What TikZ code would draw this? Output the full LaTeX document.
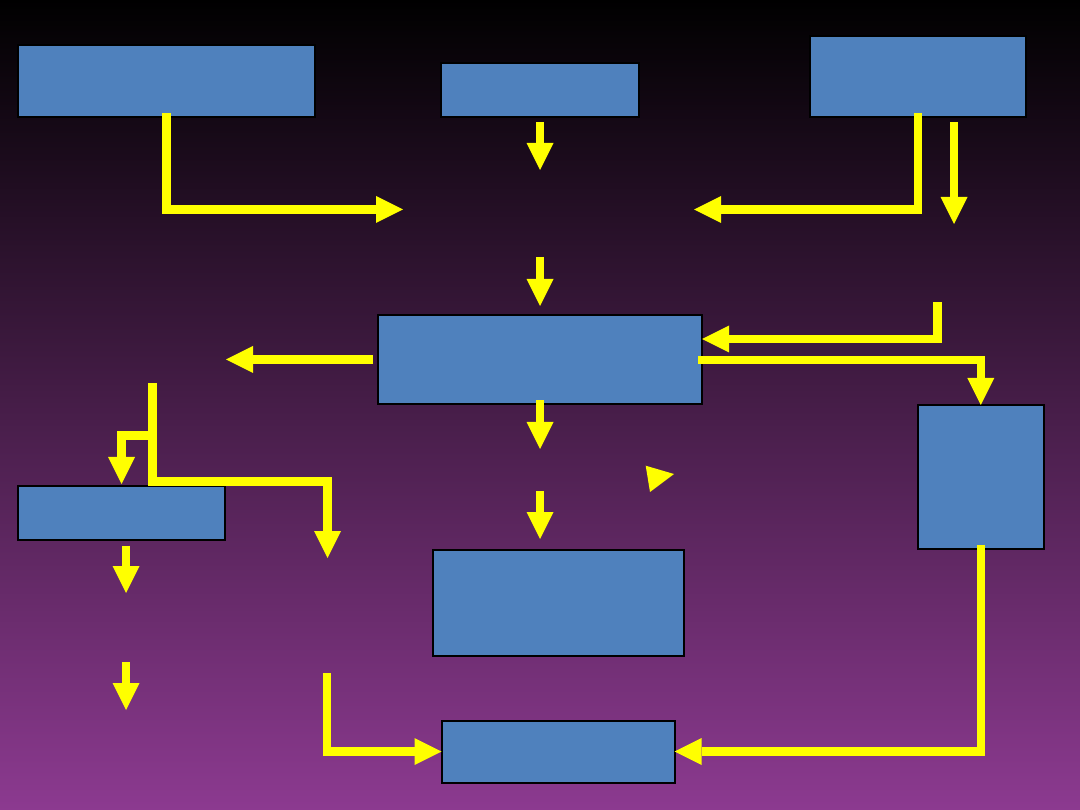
\documentclass[tikz,border=0pt]{standalone}
\usetikzlibrary{arrows.meta}
\definecolor{boxblue}{HTML}{4F81BD}
\definecolor{arrowyellow}{HTML}{FFFF00}
\definecolor{bgpurple}{HTML}{8C3A90}
\tikzset{
  box/.style={draw=black, line width=2pt, fill=boxblue, inner sep=0pt, outer sep=0pt, rectangle},
  flow/.style={draw=arrowyellow, line width=8.5pt, line join=miter,
    -{Triangle[width=27pt,length=27pt,line width=0pt]}},
  plainflow/.style={draw=arrowyellow, line width=8.5pt, line join=miter}
}
\begin{document}
\begin{tikzpicture}[x=1pt,y=-1pt]
\shade[top color=black, bottom color=bgpurple] (0,0) rectangle (1080,810);
\useasboundingbox (0,0) rectangle (1080,810);

% boxes
\node[box, minimum width=297pt, minimum height=72pt] (A) at (166.5,81) {};
\node[box, minimum width=198pt, minimum height=54pt] (B) at (540,90) {};
\node[box, minimum width=216pt, minimum height=81pt] (C) at (918,76.5) {};
\node[box, minimum width=324pt, minimum height=89pt] (D) at (540,359.5) {};
\node[box, minimum width=207pt, minimum height=53.5pt] (E) at (121.5,512.75) {};
\node[box, minimum width=125.5pt, minimum height=143.5pt] (F) at (980.75,476.75) {};
\node[box, minimum width=251pt, minimum height=106.5pt] (G) at (558,602.75) {};
\node[box, minimum width=233pt, minimum height=62pt] (H) at (558,751.5) {};

% free ends
\coordinate (a1) at (403,209.5);
\coordinate (b1) at (540,170);
\coordinate (c1) at (694,209.5);
\coordinate (c2) at (954,224);
\coordinate (m0) at (540,257);
\coordinate (m1) at (540,306);
\coordinate (r0) at (937.5,302);
\coordinate (d1) at (226,359.5);
\coordinate (l0) at (152.5,383);
\coordinate (l1) at (327.5,481.5);
\coordinate (l2) at (327.5,558);
\coordinate (l3) at (152,435.5);
\coordinate (e1) at (126,593);
\coordinate (g0) at (540,449);
\coordinate (n0) at (540,491);
\coordinate (n1) at (540,539);
\coordinate (k0) at (126,662);
\coordinate (k1) at (126,710);
\coordinate (h0) at (327,673);

% connectors
\draw[flow] ([yshift=4pt]A.south) |- (a1);
\draw[flow] ([yshift=-5pt]B.south) -- (b1);
\draw[flow] ([yshift=4pt]C.south) |- (c1);
\draw[flow] ([xshift=36pt,yshift=-5pt]C.south) -- (c2);
\draw[flow] (m0) -- (m1);
\draw[flow] (r0) |- ([yshift=20.5pt]D.east);
\draw[flow] ([xshift=-4pt,yshift=-0.5pt]D.east) -| (F.north);
\draw[flow] ([xshift=-5pt]D.west) -- (d1);
\draw[flow] (l0) |- (l1) -- (l2);
\draw[flow] (l3) -| ([yshift=2pt]E.north);
\draw[flow] ([xshift=4.5pt,yshift=-6pt]E.south) -- (e1);
\draw[flow] ([yshift=3.5pt]D.south) -- (g0);
\draw[flow] (n0) -- (n1);
\fill[arrowyellow] (645.7,465.7) -- (674,474) -- (650,492) -- cycle;
\draw[flow] (k0) -- (k1);
\draw[flow] (h0) |- (H.west);
\draw[flow] ([yshift=4pt]F.south) |- (H.east);
\end{tikzpicture}
\end{document}
